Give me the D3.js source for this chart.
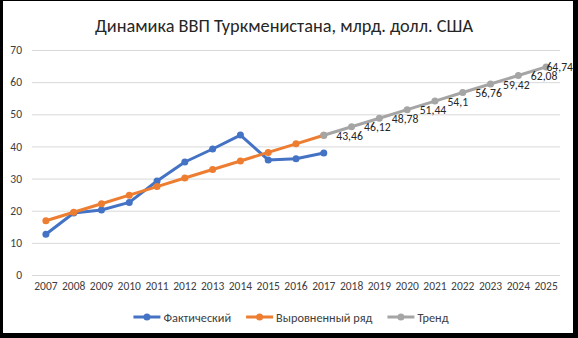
<!DOCTYPE html>
<html><head><meta charset="utf-8">
<script src="https://cdn.jsdelivr.net/npm/d3@7"></script>
<style>
html,body{margin:0;padding:0;background:#fff;}
svg{display:block;}
text{font-family:Carlito,Calibri,"Liberation Sans",sans-serif;}
</style></head>
<body><svg id="c" width="578" height="338"></svg>
<script>
const title = "Динамика ВВП Туркменистана, млрд. долл. США";
const years = ["2007","2008","2009","2010","2011","2012","2013","2014","2015","2016","2017","2018","2019","2020","2021","2022","2023","2024","2025"];
const yTicks = [0,10,20,30,40,50,60,70];
const actualYears = ["2007","2008","2009","2010","2011","2012","2013","2014","2015","2016","2017"];
const actual = [12.66,19.27,20.21,22.58,29.23,35.16,39.2,43.52,35.8,36.18,37.93];
const smoothYears = ["2007","2008","2009","2010","2011","2012","2013","2014","2015","2016","2017"];
const smooth = [16.86,19.52,22.18,24.84,27.5,30.16,32.82,35.48,38.14,40.8,43.46];
const trendYears = ["2017","2018","2019","2020","2021","2022","2023","2024","2025"];
const trend = [43.46,46.12,48.78,51.44,54.1,56.76,59.42,62.08,64.74];
const trendLabels = ["43,46","46,12","48,78","51,44","54,1","56,76","59,42","62,08","64,74"];
const seriesNames = ["Фактический","Выровненный ряд","Тренд"];
const colors = ["#4472C4","#ED7D31","#A5A5A5"];

const FONT = "Carlito,Calibri,'Liberation Sans',sans-serif";
const svg = d3.select("#c");
svg.append("rect").attr("x",0).attr("y",0).attr("width",578).attr("height",338).attr("fill","#000");
svg.append("rect").attr("x",3).attr("y",1).attr("width",570).attr("height",332).attr("fill","#fff");

// returns font size so that sample text has target width
function sizeFor(str, base, w){
  const tmp = svg.append("text").attr("font-family",FONT).attr("font-size",base).text(str);
  const len = tmp.node().getComputedTextLength();
  tmp.remove();
  return base * w / len;
}

const x = d3.scaleBand().domain(years).range([32,560]);
const y = d3.scaleLinear().domain([0,70]).range([275,50]);
const cx = d => x(d) + x.bandwidth()/2;

const tickSize = sizeFor("2007", 12, 23.3);
const labSize = sizeFor("43,46", 12, 26.6);
const legSize = sizeFor("Фактический", 12, 67.7);

// title
svg.append("text").attr("x",284).attr("y",32).attr("text-anchor","middle")
  .attr("font-size",sizeFor(title,18.67,378)).attr("fill","#262626").text(title);

// gridlines
svg.append("g").selectAll("line").data(yTicks).join("line")
  .attr("x1",32).attr("x2",560).attr("y1",d=>y(d)+0.5).attr("y2",d=>y(d)+0.5)
  .attr("stroke","#D9D9D9").attr("stroke-width",1);

const yAxis = svg.append("g").attr("transform","translate(22,0)")
  .call(d3.axisLeft(y).tickValues(yTicks).tickSize(0).tickPadding(0));
yAxis.select(".domain").remove();
yAxis.selectAll("text").attr("font-family",FONT).attr("font-size",tickSize).attr("fill","#404040");

const xAxis = svg.append("g").attr("transform","translate(0,282)")
  .call(d3.axisBottom(x).tickSize(0).tickPadding(0));
xAxis.select(".domain").remove();
xAxis.selectAll("text").attr("font-family",FONT).attr("font-size",tickSize).attr("fill","#404040");

const line = d3.line().x(d=>cx(d[0])).y(d=>y(d[1]));
const series = [
  d3.zip(actualYears, actual),
  d3.zip(smoothYears, smooth),
  d3.zip(trendYears, trend)
];
series.forEach((s,i)=>{
  svg.append("path").datum(s).attr("d",line).attr("fill","none")
    .attr("stroke",colors[i]).attr("stroke-width",3).attr("stroke-linejoin","round").attr("stroke-linecap","round");
  svg.append("g").selectAll("circle").data(s).join("circle")
    .attr("cx",d=>cx(d[0])).attr("cy",d=>y(d[1])).attr("r",3.5).attr("fill",colors[i]);
});

const lab = svg.append("g");
trend.forEach((v,i)=>{
  const px = cx(trendYears[i]), py = y(v);
  const tx = lab.append("text").attr("x",px+12.5).attr("y",py+0.5)
    .attr("dominant-baseline","central").attr("font-size",labSize).attr("fill","#262626").text(trendLabels[i]);
  const len = tx.node().getComputedTextLength();
  if (px + 12.5 + len > 573) tx.attr("x", 573 - len);
});

const lg = svg.append("g");
let cur = 0;
seriesNames.forEach((name,i)=>{
  const g = lg.append("g").attr("transform",`translate(${cur},0)`);
  g.append("line").attr("x1",0).attr("x2",27).attr("y1",0).attr("y2",0).attr("stroke",colors[i]).attr("stroke-width",3);
  g.append("circle").attr("cx",13.5).attr("cy",0).attr("r",3.5).attr("fill",colors[i]);
  const tt = g.append("text").attr("x",30).attr("y",0).attr("dominant-baseline","central")
    .attr("font-size",legSize).attr("fill","#404040").text(name);
  cur += 30 + tt.node().getComputedTextLength() + 15;
});
const total = cur - 15;
lg.attr("transform",`translate(${291 - total/2},317)`);
</script></body></html>
